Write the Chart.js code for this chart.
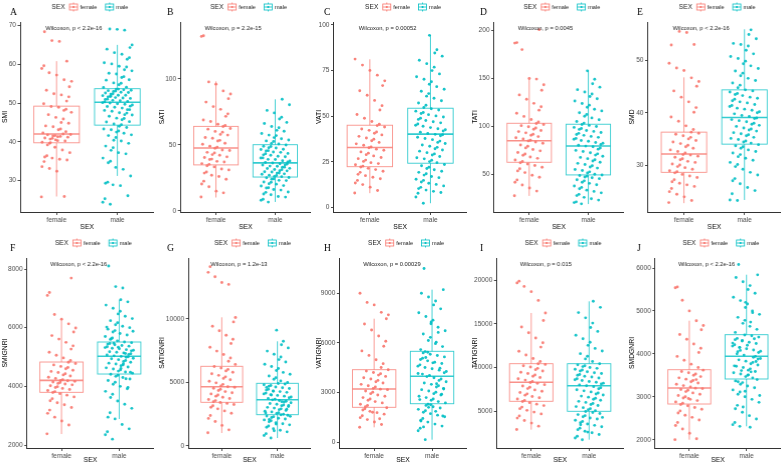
<!DOCTYPE html>
<html>
<head>
<meta charset="utf-8">
<script src="https://cdn.jsdelivr.net/npm/chart.js@4.4.1/dist/chart.umd.min.js"></script>
<style>
  html, body { margin: 0; padding: 0; background: #fff; }
  #wrap { position: relative; width: 784px; height: 466px; }
  .panel { position: absolute; width: 156.8px; height: 233px; }
</style>
</head>
<body>
<div id="wrap"></div>
<script>
// ---- data ----
const sexLabels = ["female", "male"];
const panelLetters = ["A", "B", "C", "D", "E", "F", "G", "H", "I", "J"];
const yTitles = ["SMI", "SATI", "VATI", "TATI", "SMD", "SMIGNRI", "SATIGNRI", "VATIGNRI", "TATIGNRI", "SMDGNRI"];
const pLabels = [
  "Wilcoxon, p < 2.2e-16", "Wilcoxon, p = 2.2e-15", "Wilcoxon, p = 0.00052",
  "Wilcoxon, p = 0.0045", "Wilcoxon, p < 2.2e-16", "Wilcoxon, p < 2.2e-16",
  "Wilcoxon, p = 1.2e-13", "Wilcoxon, p = 0.00029", "Wilcoxon, p = 0.015",
  "Wilcoxon, p < 2.2e-16"
];

const smiTicks = [30, 40, 50, 60, 70];
const satiTicks = [0, 50, 100];
const vatiTicks = [0, 25, 50, 75, 100];
const tatiTicks = [50, 100, 150, 200];
const smdTicks = [30, 40, 50];
const smignriTicks = [2000, 4000, 6000, 8000];
const satignriTicks = [0, 5000, 10000];
const vatignriTicks = [0, 3000, 6000, 9000];
const tatignriTicks = [5000, 10000, 15000, 20000];
const smdgnriTicks = [2000, 3000, 4000, 5000, 6000];

// box stats: [lower whisker, q1, median, q3, upper whisker]
const smiFemaleBox = [25.9, 39.75, 42.0, 49.2, 60.8];
const smiMaleBox = [31.2, 44.3, 50.2, 53.7, 65.0];
const satiFemaleBox = [10.0, 34.7, 47.5, 63.9, 98.0];
const satiMaleBox = [6.6, 25.5, 36.2, 50.0, 84.4];
const vatiFemaleBox = [7.9, 22.4, 32.9, 45.1, 81.2];
const vatiMaleBox = [2.4, 24.3, 40.2, 54.4, 94.5];
const tatiFemaleBox = [27.5, 62.6, 85.1, 103.3, 149.3];
const tatiMaleBox = [19.0, 49.4, 79.6, 102.3, 158.0];
const smdFemaleBox = [22.7, 28.6, 32.1, 36.3, 46.8];
const smdMaleBox = [23.3, 34.0, 39.1, 44.4, 56.0];
const smignriFemaleBox = [2374, 3796, 4205, 4829, 6295];
const smignriMaleBox = [2886, 4420, 5024, 5511, 6953];
const satignriFemaleBox = [1000, 3417, 4646, 6252, 10110];
const satignriMaleBox = [606, 2441, 3622, 4913, 8220];
const vatignriFemaleBox = [906, 2114, 3220, 4386, 7466];
const vatignriMaleBox = [157, 2331, 3987, 5497, 9220];
const tatignriFemaleBox = [2900, 6145, 8320, 10450, 16256];
const tatignriMaleBox = [1750, 5000, 7930, 10450, 17595];
const smdgnriFemaleBox = [2000, 2831, 3204, 3630, 4772];
const smdgnriMaleBox = [2311, 3414, 3943, 4446, 5844];

// individual observations (approximate readings)
const smiFemale = [25.8, 25.9, 32.4, 33.1, 33.6, 34.9, 35.3, 35.5, 35.8, 36.1, 36.4, 37.2, 37.9, 38.6, 39.2, 39.6,
  39.9, 40.2, 40.3, 40.7, 40.9, 41.0, 41.2, 41.4, 41.5, 41.6, 41.8, 41.9, 42.0, 40.5, 41.3, 39.8,
  42.3, 42.6, 43.1, 43.3, 43.9, 44.1, 44.8, 45.0, 45.9, 46.3, 47.0, 47.6, 48.1, 48.4, 48.9, 49.1,
  49.8, 50.5, 51.6, 52.1, 52.4, 53.3, 54.2, 55.6, 56.0, 57.2, 57.8, 58.9, 59.6, 60.8, 65.9, 66.1, 68.4];
const smiMale = [23.9, 24.4, 25.3, 26.1, 28.7, 28.9, 29.3, 29.6,
  31.2, 32.9, 33.4, 34.6, 35.0, 35.8, 36.9, 37.2, 37.8, 38.5, 38.9, 39.6, 40.2, 40.4, 41.1, 41.6, 41.8, 42.2, 42.5, 42.8, 43.1, 43.3, 43.7, 44.0,
  44.4, 44.6, 45.1, 45.2, 45.7, 46.0, 46.1, 46.6, 46.9, 47.0, 47.4, 47.5, 47.9, 48.1, 48.3, 48.3, 48.7, 48.9, 49.1, 49.2, 49.5, 49.7, 49.8, 50.0, 50.1,
  50.3, 50.4, 50.6, 50.7, 50.9, 51.0, 51.2, 51.3, 51.4, 51.6, 51.7, 51.9, 52.0, 52.0, 52.3, 52.4, 52.6, 52.7, 52.8, 53.0, 53.1, 53.2, 53.3, 53.4, 53.6, 53.6, 51.8,
  54.0, 54.1, 54.7, 55.1, 55.2, 55.9, 56.0, 56.6, 56.8, 57.5, 57.7, 58.3, 58.6, 59.3, 59.5, 60.1, 60.4, 61.3, 61.7, 62.6, 63.0, 63.9, 64.3, 65.0, 68.8, 69.0, 69.1];

const satiFemale = [10.4, 13.5, 14.8, 18.1, 20.2, 22.4, 23.8, 25.9, 26.8, 28.5, 29.3, 30.9, 31.6, 33.2, 34.1,
  35.1, 35.7, 36.9, 37.4, 38.8, 39.1, 40.3, 40.8, 42.0, 42.5, 43.8, 44.2, 45.6, 46.0, 47.3,
  48.2, 48.9, 50.4, 51.1, 52.8, 53.3, 54.9, 55.5, 57.3, 57.8, 59.5, 60.1, 61.8, 62.3, 63.8,
  64.6, 65.5, 67.6, 68.7, 71.5, 73.4, 76.8, 78.9, 82.3, 84.9, 88.4, 90.8, 95.9, 97.6, 132.1, 132.6];
const satiMale = [6.5, 7.9, 8.7, 10.3, 10.8, 12.1, 12.6, 13.9, 14.2, 15.6, 16.0, 17.2, 17.4, 18.7, 19.0, 20.1, 20.4, 21.5, 21.7, 22.8, 23.0, 23.9, 24.1, 25.0, 25.2,
  25.8, 26.0, 26.7, 26.9, 27.6, 27.9, 28.5, 28.6, 29.3, 29.5, 30.2, 30.3, 31.1, 31.2, 32.0, 32.1, 32.9, 33.0, 33.7, 33.8, 34.6, 34.7, 35.4, 35.6, 36.1,
  36.5, 36.9, 37.7, 37.8, 38.8, 38.9, 39.9, 40.0, 40.9, 41.2, 42.0, 42.3, 43.1, 43.4, 44.2, 44.5, 45.3, 45.5, 46.4, 46.6, 47.5, 47.7, 48.6, 48.8, 49.8,
  50.5, 51.0, 52.4, 52.9, 53.6, 54.5, 55.4, 56.9, 57.3, 58.5, 60.2, 60.9, 62.9, 63.8, 66.1, 66.9, 69.5, 70.8, 74.1, 76.0, 80.3, 84.5];

const vatiFemale = [8.0, 9.4, 11.2, 12.6, 13.5, 14.9, 15.8, 16.6, 17.5, 18.2, 19.3, 19.9, 20.8, 21.5, 22.2,
  22.7, 23.5, 24.1, 24.6, 25.3, 26.0, 26.8, 27.4, 28.3, 29.0, 29.8, 30.5, 31.4, 32.0, 32.8,
  33.2, 34.1, 34.9, 35.7, 36.6, 37.4, 38.1, 39.0, 39.8, 40.7, 41.4, 42.3, 43.0, 44.1, 44.9,
  45.6, 47.1, 48.9, 51.0, 53.4, 55.8, 58.7, 61.5, 64.0, 66.8, 69.4, 72.5, 75.1, 78.0, 81.3];
const vatiMale = [2.4, 5.8, 7.9, 8.3, 8.9, 9.6, 10.4, 11.1, 11.9, 12.7, 13.3, 14.0, 14.9, 15.5, 16.4, 17.0, 17.8, 18.5, 19.3, 19.9, 20.7, 21.4, 22.1, 22.9, 23.6,
  24.6, 25.2, 25.9, 26.7, 27.3, 28.0, 28.8, 29.4, 30.1, 30.9, 31.5, 32.2, 33.0, 33.6, 34.3, 35.1, 35.7, 36.4, 37.2, 37.8, 38.5, 39.3, 39.9, 40.1,
  40.6, 41.3, 41.9, 42.6, 43.2, 43.8, 44.5, 45.1, 45.8, 46.4, 47.0, 47.7, 48.3, 48.9, 49.6, 50.2, 50.9, 51.5, 52.1, 52.8, 53.4, 54.1,
  54.8, 56.0, 57.3, 58.5, 59.9, 61.0, 62.4, 63.7, 64.8, 66.2, 67.5, 68.9, 70.3, 71.6, 73.2, 75.0, 76.9, 78.8, 80.7, 82.9, 84.6, 86.4, 94.3];

const tatiFemale = [27.6, 32.5, 35.8, 38.9, 41.7, 44.2, 46.9, 49.0, 51.8, 53.6, 55.9, 57.4, 59.3, 60.8, 62.1,
  63.4, 65.0, 66.7, 68.1, 69.9, 71.2, 72.8, 74.5, 76.0, 77.6, 79.3, 80.7, 82.4, 83.8, 84.9,
  85.6, 86.9, 88.2, 89.4, 90.8, 91.9, 93.3, 94.6, 95.8, 97.1, 98.3, 99.6, 100.8, 102.0, 103.1,
  104.6, 107.2, 110.5, 113.8, 117.0, 120.6, 124.1, 128.3, 132.9, 137.8, 143.5, 149.4, 150.0, 180.2, 187.0, 187.5, 201.0];
const tatiMale = [19.2, 20.5, 21.3, 23.1, 24.6, 26.0, 27.8, 29.1, 30.7, 32.2, 33.5, 35.0, 36.4, 37.9, 39.1, 40.6, 41.8, 43.2, 44.3, 45.5, 46.4, 47.3, 48.1, 48.8, 49.3,
  50.1, 51.4, 52.6, 54.0, 55.1, 56.5, 57.6, 59.0, 60.2, 61.5, 62.7, 63.9, 65.2, 66.4, 67.7, 68.9, 70.1, 71.4, 72.6, 73.9, 75.0, 76.3, 77.5, 78.8, 79.5,
  80.3, 81.2, 82.4, 83.3, 84.5, 85.4, 86.6, 87.5, 88.6, 89.6, 90.7, 91.6, 92.8, 93.7, 94.8, 95.8, 96.9, 97.9, 99.0, 100.0, 101.1, 102.1,
  103.5, 105.2, 107.0, 108.9, 110.6, 112.5, 114.3, 116.2, 118.0, 120.1, 122.2, 124.0, 126.5, 128.9, 131.2, 133.8, 136.0, 138.4, 141.0, 144.6, 149.2, 158.0];

const smdFemale = [22.8, 23.2, 23.9, 24.4, 24.9, 25.5, 25.9, 26.2, 26.5, 26.8, 27.2, 27.6, 27.9, 28.2, 28.5,
  28.7, 28.9, 29.2, 29.5, 29.7, 30.0, 30.2, 30.5, 30.7, 31.0, 31.2, 31.5, 31.7, 31.9, 32.0,
  32.3, 32.6, 32.9, 33.2, 33.5, 33.8, 34.1, 34.4, 34.7, 35.0, 35.3, 35.6, 35.9, 36.1, 36.3,
  36.8, 37.5, 38.4, 39.2, 40.1, 41.0, 42.1, 43.0, 44.2, 45.1, 46.0, 46.7, 48.1, 48.6, 49.5, 53.0, 53.1, 55.4, 55.6];
const smdMale = [23.2, 23.3, 24.5, 25.1, 25.7, 26.4, 27.0, 27.4, 28.1, 28.6, 29.2, 29.7, 30.1, 30.5, 30.9, 31.3, 31.6, 32.0, 32.3, 32.6, 32.9, 33.2, 33.5, 33.7, 33.9,
  34.2, 34.4, 34.6, 34.9, 35.1, 35.3, 35.6, 35.8, 36.0, 36.2, 36.5, 36.7, 36.9, 37.1, 37.4, 37.6, 37.8, 38.0, 38.3, 38.5, 38.7, 38.9, 39.0,
  39.3, 39.5, 39.8, 40.0, 40.2, 40.5, 40.7, 40.9, 41.2, 41.4, 41.6, 41.9, 42.1, 42.3, 42.6, 42.8, 43.0, 43.3, 43.5, 43.7, 44.0, 44.2, 44.4,
  44.8, 45.3, 45.7, 46.2, 46.6, 47.1, 47.6, 48.0, 48.5, 49.0, 49.4, 49.9, 50.4, 50.8, 51.3, 52.0, 52.8, 53.1, 53.3, 54.2, 55.0, 55.9];

const smignriFemale = [2380, 2680, 2820, 2950, 3080, 3190, 3280, 3370, 3440, 3510, 3580, 3640, 3700, 3750, 3790,
  3820, 3860, 3890, 3930, 3960, 3990, 4020, 4050, 4080, 4100, 4130, 4150, 4170, 4190, 4200,
  4230, 4270, 4310, 4350, 4390, 4430, 4470, 4510, 4550, 4600, 4640, 4680, 4730, 4780, 4820,
  4880, 4970, 5060, 5160, 5270, 5380, 5500, 5610, 5730, 5850, 5990, 6130, 6290, 6450, 7100, 7200, 7690];
const smignriMale = [2200, 2350, 2450, 2550, 2700, 2890, 2950, 3100, 3250, 3390, 3500, 3620, 3730, 3830, 3920, 4000, 4070, 4140, 4200, 4250, 4300, 4340, 4380, 4410,
  4450, 4490, 4520, 4560, 4590, 4630, 4660, 4700, 4730, 4760, 4790, 4820, 4850, 4880, 4910, 4940, 4960, 4990, 5010, 5020,
  5040, 5070, 5090, 5110, 5140, 5160, 5180, 5210, 5230, 5250, 5280, 5300, 5320, 5350, 5370, 5390, 5420, 5440, 5460, 5490, 5510,
  5550, 5600, 5650, 5700, 5750, 5800, 5850, 5900, 5950, 6000, 6050, 6100, 6170, 6240, 6310, 6390, 6470, 6560, 6660, 6770, 6880, 6950, 7350, 7400, 8100,
  4480, 4770, 5120, 5330, 5620, 5880, 4260, 3960, 4610, 5470, 6020];

const satignriFemale = [1020, 1250, 1600, 1900, 2150, 2380, 2560, 2740, 2900, 3030, 3150, 3250, 3330, 3400,
  3460, 3550, 3640, 3720, 3810, 3900, 3990, 4080, 4170, 4260, 4350, 4440, 4520, 4600, 4640,
  4710, 4830, 4950, 5070, 5190, 5300, 5420, 5540, 5660, 5780, 5890, 6010, 6120, 6240,
  6400, 6650, 6900, 7180, 7450, 7750, 8050, 8380, 8700, 9050, 9400, 9750, 10100, 12700, 12850, 13300, 13650, 14100];
const satignriMale = [610, 800, 950, 1090, 1220, 1340, 1450, 1550, 1640, 1730, 1810, 1890, 1960, 2030, 2100, 2160, 2220, 2280, 2340, 2400, 2440, 1180, 1700, 2060, 2310,
  2480, 2540, 2600, 2660, 2720, 2780, 2840, 2900, 2960, 3020, 3080, 3140, 3200, 3260, 3320, 3380, 3440, 3500, 3560, 3610, 2570, 2870, 3170, 3470,
  3660, 3720, 3780, 3840, 3900, 3960, 4020, 4080, 4140, 4200, 4260, 4320, 4380, 4440, 4500, 4560, 4620, 4680, 4740, 4800, 4860, 4900, 3990, 4290, 4590,
  4980, 5100, 5230, 5360, 5490, 5630, 5770, 5920, 6080, 6240, 6410, 6590, 6780, 6980, 7200, 7450, 7700, 7950, 8220, 9100];

const vatignriFemale = [910, 1080, 1230, 1370, 1490, 1600, 1700, 1790, 1870, 1950, 2020, 2090, 1420, 1820,
  2150, 2220, 2300, 2380, 2460, 2540, 2620, 2700, 2780, 2860, 2940, 3020, 3100, 3180, 3210,
  3260, 3340, 3420, 3500, 3580, 3660, 3740, 3820, 3900, 3980, 4060, 4140, 4220, 4300, 4380,
  4520, 4750, 4990, 5250, 5520, 5800, 6100, 6420, 6780, 7150, 7460, 7700, 7850, 8300, 8450, 9000];
const vatignriMale = [160, 700, 850, 980, 1100, 1220, 1330, 1440, 1540, 1640, 1730, 1820, 1910, 1990, 2070, 2150, 2230, 2300, 1280, 1590, 1870, 2110, 2270, 930,
  2380, 2460, 2540, 2620, 2700, 2780, 2860, 2940, 3020, 3100, 3180, 3260, 3340, 3420, 3500, 3580, 3660, 3740, 3820, 3900, 3970, 2580, 2900, 3220, 3540,
  4040, 4120, 4200, 4280, 4360, 4440, 4520, 4600, 4680, 4760, 4840, 4920, 5000, 5080, 5160, 5240, 5320, 5400, 5480, 4160, 4480, 4800, 5120, 5440,
  5600, 5780, 5960, 6150, 6340, 6540, 6740, 6950, 7160, 7380, 7600, 7830, 8060, 8300, 8540, 8780, 9000, 9220, 6050, 6640, 7270, 10500];

const tatignriFemale = [2920, 3300, 3650, 3950, 4220, 4470, 4700, 4910, 5110, 5300, 5480, 5650, 5820, 5990, 6120,
  6250, 6400, 6550, 6700, 6850, 7000, 7150, 7300, 7450, 7600, 7750, 7900, 8050, 8200, 8300,
  8420, 8570, 8720, 8870, 9020, 9170, 9320, 9470, 9620, 9770, 9920, 10070, 10220, 10370, 10440,
  10700, 11050, 11450, 11880, 12350, 12850, 13400, 14000, 14650, 15400, 16250, 17700, 18700, 19300, 19700, 19900];
const tatignriMale = [1750, 1950, 2150, 2350, 2540, 2720, 2900, 3070, 3230, 3390, 3540, 3690, 3830, 3970, 4110, 4240, 4370, 4500, 4620, 4740, 4860, 4980, 2620, 3460, 4300,
  5060, 5180, 5300, 5420, 5540, 5660, 5780, 5900, 6020, 6140, 6260, 6380, 6500, 6620, 6740, 6860, 6980, 7100, 7220, 7340, 7460, 7580, 7700, 7820, 7920,
  8020, 8120, 8220, 8320, 8420, 8520, 8620, 8720, 8820, 8920, 9020, 9120, 9220, 9320, 9420, 9520, 9620, 9720, 9820, 9920, 10020, 10120, 10220, 10320, 10440,
  10700, 11000, 11300, 11600, 11900, 12200, 12550, 12900, 13300, 13700, 14150, 14600, 15100, 15700, 16300, 16900, 17600];

const smdgnriFemale = [2000, 2020, 2150, 2250, 2330, 2400, 2460, 2520, 2570, 2620, 2670, 2710, 2750, 2790, 2820,
  2850, 2880, 2910, 2940, 2970, 3000, 3030, 3060, 3090, 3120, 3150, 3170, 3190, 3200, 2960,
  3230, 3260, 3290, 3320, 3350, 3380, 3410, 3440, 3470, 3500, 3530, 3560, 3590, 3620, 3400,
  3680, 3760, 3850, 3940, 4030, 4130, 4230, 4340, 4450, 4560, 4660, 4770, 5000, 5250, 5540, 5560];
const smdgnriMale = [2310, 2350, 2400, 2480, 2560, 2640, 2720, 2800, 2870, 2940, 3000, 3060, 3110, 3160, 3210, 3250, 3290, 3330, 3370, 3400, 2290, 2760, 3130, 3350, 3030,
  3440, 3470, 3500, 3530, 3560, 3590, 3620, 3650, 3680, 3710, 3740, 3770, 3800, 3830, 3860, 3890, 3920, 3940, 3510, 3610, 3720, 3820, 3880, 3580,
  3970, 4000, 4030, 4060, 4090, 4120, 4150, 4180, 4210, 4240, 4270, 4300, 4330, 4360, 4390, 4420, 4440, 4050, 4150, 4250, 4350, 4200, 4080, 4310,
  4500, 4570, 4640, 4710, 4780, 4850, 4920, 5000, 5080, 5160, 5240, 5320, 5410, 5500, 5590, 5680, 5780, 5840, 4740, 4960, 5200, 6080];

// ---- panel wiring ----
const panels = [
  { ticks: smiTicks, f: smiFemale, m: smiMale, fb: smiFemaleBox, mb: smiMaleBox },
  { ticks: satiTicks, f: satiFemale, m: satiMale, fb: satiFemaleBox, mb: satiMaleBox },
  { ticks: vatiTicks, f: vatiFemale, m: vatiMale, fb: vatiFemaleBox, mb: vatiMaleBox },
  { ticks: tatiTicks, f: tatiFemale, m: tatiMale, fb: tatiFemaleBox, mb: tatiMaleBox },
  { ticks: smdTicks, f: smdFemale, m: smdMale, fb: smdFemaleBox, mb: smdMaleBox },
  { ticks: smignriTicks, f: smignriFemale, m: smignriMale, fb: smignriFemaleBox, mb: smignriMaleBox },
  { ticks: satignriTicks, f: satignriFemale, m: satignriMale, fb: satignriFemaleBox, mb: satignriMaleBox },
  { ticks: vatignriTicks, f: vatignriFemale, m: vatignriMale, fb: vatignriFemaleBox, mb: vatignriMaleBox },
  { ticks: tatignriTicks, f: tatignriFemale, m: tatignriMale, fb: tatignriFemaleBox, mb: tatignriMaleBox },
  { ticks: smdgnriTicks, f: smdgnriFemale, m: smdgnriMale, fb: smdgnriFemaleBox, mb: smdgnriMaleBox }
];

// layout (axis limits and y-axis widths per panel)
const yLimits = [[21.9, 70.9], [-1, 143], [-2.4, 101.6], [10.7, 209], [21, 57.4],
  [1898, 8375], [-181, 14780], [-344, 11133], [797, 22553], [1806, 6233]];
const yAxisWidth = [20, 23.2, 19.5, 23.6, 20.5, 26.7, 31.2, 25.4, 26.3, 27.8];

const RED = "#F8766D";
const CYAN = "#00BFC4";
const FONT = "'Liberation Sans', Arial, sans-serif";

function jitter(i) {
  const a = (i * 0.6180339887 + (i % 5) * 0.137) % 1;
  return (a - 0.5) * 0.5;
}

function drawKey(ctx, x, y, color) {
  ctx.save();
  ctx.strokeStyle = color;
  ctx.lineWidth = 0.8;
  ctx.strokeRect(x + 0.5, y - 3, 8, 6);
  ctx.beginPath();
  ctx.moveTo(x + 4.5, y - 4.5); ctx.lineTo(x + 4.5, y - 3);
  ctx.moveTo(x + 4.5, y + 3); ctx.lineTo(x + 4.5, y + 4.5);
  ctx.moveTo(x + 0.5, y); ctx.lineTo(x + 8.5, y);
  ctx.stroke();
  ctx.fillStyle = color;
  ctx.beginPath();
  ctx.arc(x + 4.5, y, 1.1, 0, Math.PI * 2);
  ctx.fill();
  ctx.restore();
}

function makePanel(idx) {
  const p = panels[idx];
  const row = idx < 5 ? 0 : 1;
  const col = idx % 5;
  const div = document.createElement("div");
  div.className = "panel";
  div.style.left = (col * 156.8) + "px";
  div.style.top = (row * 233) + "px";
  const canvas = document.createElement("canvas");
  div.appendChild(canvas);
  document.getElementById("wrap").appendChild(div);

  const boxPlugin = {
    id: "boxes",
    beforeDatasetsDraw(chart) {
      const { ctx } = chart;
      const xs = chart.scales.x, ys = chart.scales.y;
      [[p.fb, RED], [p.mb, CYAN]].forEach(([b, color], g) => {
        const xc = xs.getPixelForValue(g + 1);
        const x0 = xs.getPixelForValue(g + 1 - 0.375);
        const x1 = xs.getPixelForValue(g + 1 + 0.375);
        const py = b.map(v => ys.getPixelForValue(v));
        ctx.save();
        ctx.strokeStyle = color;
        ctx.globalAlpha = 0.8;
        ctx.lineWidth = 0.9;
        ctx.beginPath();
        ctx.moveTo(xc, py[0]); ctx.lineTo(xc, py[1]);
        ctx.moveTo(xc, py[3]); ctx.lineTo(xc, py[4]);
        ctx.stroke();
        ctx.strokeRect(x0, py[3], x1 - x0, py[1] - py[3]);
        ctx.lineWidth = 1.6;
        ctx.beginPath();
        ctx.moveTo(x0, py[2]); ctx.lineTo(x1, py[2]);
        ctx.stroke();
        ctx.restore();
      });
    }
  };

  const decorPlugin = {
    id: "decor",
    afterDraw(chart) {
      const { ctx, chartArea } = chart;
      const xs = chart.scales.x;
      ctx.save();
      ctx.textBaseline = "middle";
      ctx.textAlign = "left";
      // p-value label
      ctx.fillStyle = "#1a1a1a";
      ctx.font = "5.8px " + FONT;
      ctx.fillText(pLabels[idx], xs.getPixelForValue(1) - 11, chartArea.top + 6);
      // panel letter
      ctx.font = "9.5px 'Liberation Serif', 'Times New Roman', serif";
      ctx.fillStyle = "#000";
      ctx.fillText(panelLetters[idx], 10, chartArea.top - 10);
      // legend
      ctx.font = "6.6px " + FONT;
      const wSex = ctx.measureText("SEX").width;
      ctx.font = "5.6px " + FONT;
      const wF = ctx.measureText(sexLabels[0]).width;
      const wM = ctx.measureText(sexLabels[1]).width;
      const total = wSex + 4 + 11 + wF + 8 + 11 + wM;
      let x = (chartArea.left + chartArea.right) / 2 - total / 2 + 3;
      const y = chartArea.top - 15;
      ctx.fillStyle = "#1a1a1a";
      ctx.font = "6.6px " + FONT;
      ctx.fillText("SEX", x, y);
      x += wSex + 4;
      drawKey(ctx, x, y, RED);
      x += 11;
      ctx.font = "5.6px " + FONT;
      ctx.fillText(sexLabels[0], x, y);
      x += wF + 8;
      drawKey(ctx, x, y, CYAN);
      x += 11;
      ctx.fillText(sexLabels[1], x, y);
      ctx.restore();
    }
  };

  new Chart(canvas, {
    type: "scatter",
    data: {
      datasets: [
        {
          label: sexLabels[0],
          data: p.f.map((v, i) => ({ x: 1 + jitter(i), y: v })),
          backgroundColor: "rgba(248,118,109,0.9)",
          borderWidth: 0,
          pointRadius: 1.45
        },
        {
          label: sexLabels[1],
          data: p.m.map((v, i) => ({ x: 2 + jitter(i + 3), y: v })),
          backgroundColor: "rgba(0,191,196,0.9)",
          borderWidth: 0,
          pointRadius: 1.45
        }
      ]
    },
    options: {
      responsive: true,
      maintainAspectRatio: false,
      animation: false,
      devicePixelRatio: 1,
      layout: { padding: { top: row === 0 ? 22 : 25, right: 3, left: 0, bottom: 0 } },
      plugins: { legend: { display: false }, tooltip: { enabled: false } },
      scales: {
        x: {
          type: "linear",
          min: 0.4,
          max: 2.6,
          afterBuildTicks: s => { s.ticks = [{ value: 1 }, { value: 2 }]; },
          afterFit: s => { s.height = row === 0 ? 21 : 18; },
          ticks: {
            callback: (v, i) => sexLabels[i],
            font: { size: 6.6, family: FONT },
            color: "#4d4d4d",
            padding: 1.5,
            maxRotation: 0
          },
          grid: { drawOnChartArea: false, tickLength: 3, color: "#4d4d4d" },
          border: { color: "#333", width: 1 },
          title: { display: true, text: "SEX", font: { size: 6.8, family: FONT }, color: "#000", padding: { top: 0, bottom: 2 } }
        },
        y: {
          min: yLimits[idx][0],
          max: yLimits[idx][1],
          afterBuildTicks: s => { s.ticks = p.ticks.map(v => ({ value: v })); },
          afterFit: s => { s.width = yAxisWidth[idx]; },
          ticks: {
            callback: v => String(v),
            font: { size: 6.6, family: FONT },
            color: "#4d4d4d",
            padding: 1.5
          },
          grid: { drawOnChartArea: false, tickLength: 2.5, color: "#4d4d4d" },
          border: { color: "#333", width: 1 },
          title: { display: true, text: yTitles[idx], font: { size: 6.8, family: FONT }, color: "#000", padding: { top: 1, bottom: 1 } }
        }
      }
    },
    plugins: [boxPlugin, decorPlugin]
  });
}

for (let i = 0; i < panels.length; i++) makePanel(i);
</script>
</body>
</html>
